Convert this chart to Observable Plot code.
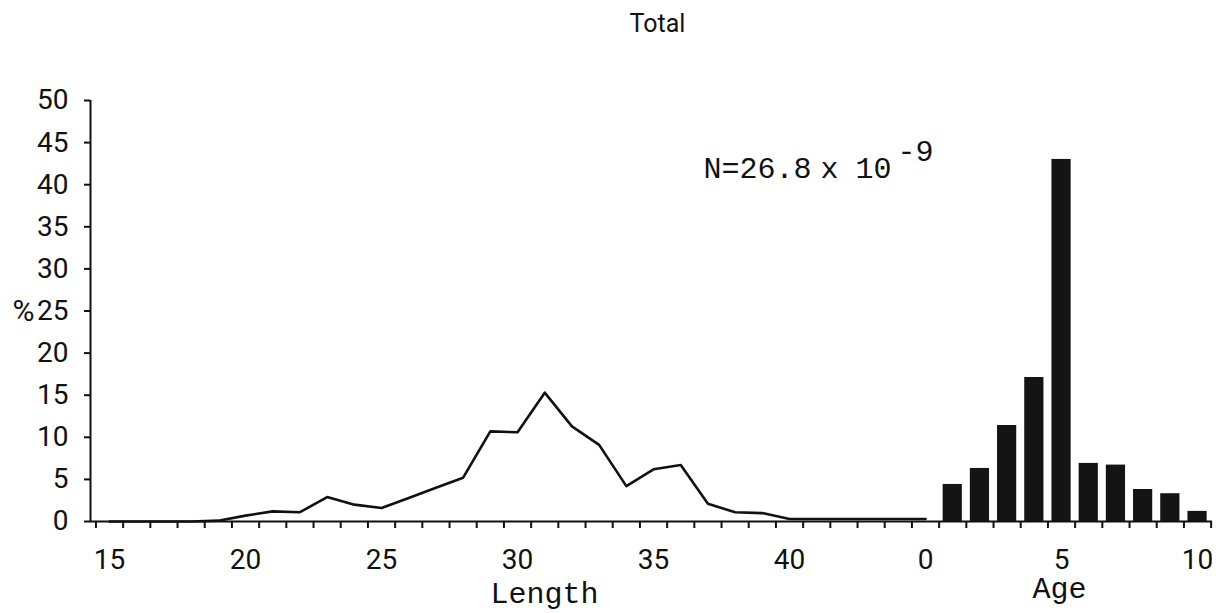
<!DOCTYPE html>
<html><head><meta charset="utf-8">
<script src="https://cdn.jsdelivr.net/npm/d3@7"></script>
<script src="https://cdn.jsdelivr.net/npm/@observablehq/plot@0.6"></script>
<style>body{margin:0;background:#fff} svg{display:block}</style>
</head><body><div id="chart"></div>
<script>
const lengths   = [15,16,17,18,19,20,21,22,23,24,25,26,27,28,29,30,31,32,33,34,35,36,37,38,39,40,41,42,43,44,45];
const lengthPct = [0,0,0,0,0.1,0.7,1.2,1.1,2.9,2.0,1.6,2.8,4.0,5.2,10.7,10.6,15.3,11.3,9.1,4.2,6.2,6.7,2.1,1.1,1.0,0.3,0.3,0.3,0.3,0.3,0.3];
const ages   = [1,2,3,4,5,6,7,8,9,10];
const agePct = [4.4,6.3,11.4,17.1,43.0,6.9,6.7,3.8,3.3,1.2];
const ageOffset = 45;               // age 0 sits where length 45 would be
const yTicks = [0,5,10,15,20,25,30,35,40,45,50];
const xTickValues = [15,20,25,30,35,40,45,50,55];
const xTickLabels = ["15","20","25","30","35","40","0","5","10"];
const minorTicks = d3.range(14.5, 56, 1);
const xDomain = [14.3, 55.55];

const lineData = lengths.map((l, i) => ({x: l, y: lengthPct[i]}));
const barData  = ages.map((a, i) => ({x: a + ageOffset, y: agePct[i]}));

const mL = 90, mT = 100;
const at = (px, py, anchor = "middle") => ({frameAnchor: "top-left", dx: px - mL, dy: py - mT, textAnchor: anchor, lineAnchor: "middle"});
const mono = "'Liberation Mono', 'DejaVu Sans Mono', monospace";

const chart = Plot.plot({
  width: 1226, height: 613,
  marginLeft: 90, marginRight: 14, marginTop: 100, marginBottom: 92,
  style: {fontFamily: "Roboto, sans-serif", fontSize: "28px", color: "#111", background: "#fff"},
  x: {domain: xDomain, axis: null},
  y: {domain: [0, 50], axis: null},
  marks: [
    Plot.rectY(barData, {x1: d => d.x - 0.5, x2: d => d.x + 0.5, y: "y", insetLeft: 4, insetRight: 4, fill: "#141414"}),
    Plot.line(lineData, {x: "x", y: "y", stroke: "#111", strokeWidth: 2.6}),
    Plot.ruleY([0], {stroke: "#111", strokeWidth: 2}),
    Plot.ruleX([xDomain[0]], {y1: 0, y2: 50, stroke: "#111", strokeWidth: 2}),
    Plot.axisY(yTicks, {label: null, tickSize: 6, tickPadding: 16, strokeWidth: 2, tickFormat: d => String(d)}),
    Plot.axisX(minorTicks, {label: null, tickSize: 7, strokeWidth: 2, tickFormat: () => ""}),
    Plot.axisX(xTickValues, {label: null, tickSize: 0, tickPadding: 28, tickFormat: d => xTickLabels[xTickValues.indexOf(d)]}),
    Plot.text(["Total"], {text: d => d, ...at(657, 23), fontSize: 25}),
    Plot.text(["%"], {text: d => d, ...at(12, 311, "start"), fontSize: 30}),
    Plot.text(["Length"], {text: d => d, ...at(544, 593), fontFamily: mono, fontSize: 30}),
    Plot.text(["Age"], {text: d => d, ...at(1059, 588), fontFamily: mono, fontSize: 30}),
    Plot.text(["N=26.8"], {text: d => d, ...at(703, 168, "start"), fontFamily: mono, fontSize: 30}),
    Plot.text(["x"], {text: d => d, ...at(820, 168, "start"), fontFamily: mono, fontSize: 30}),
    Plot.text(["10"], {text: d => d, ...at(855, 168, "start"), fontFamily: mono, fontSize: 30}),
    Plot.text(["-9"], {text: d => d, ...at(897, 151, "start"), fontFamily: mono, fontSize: 30})
  ]
});
document.getElementById("chart").appendChild(chart);
</script>
</body></html>
